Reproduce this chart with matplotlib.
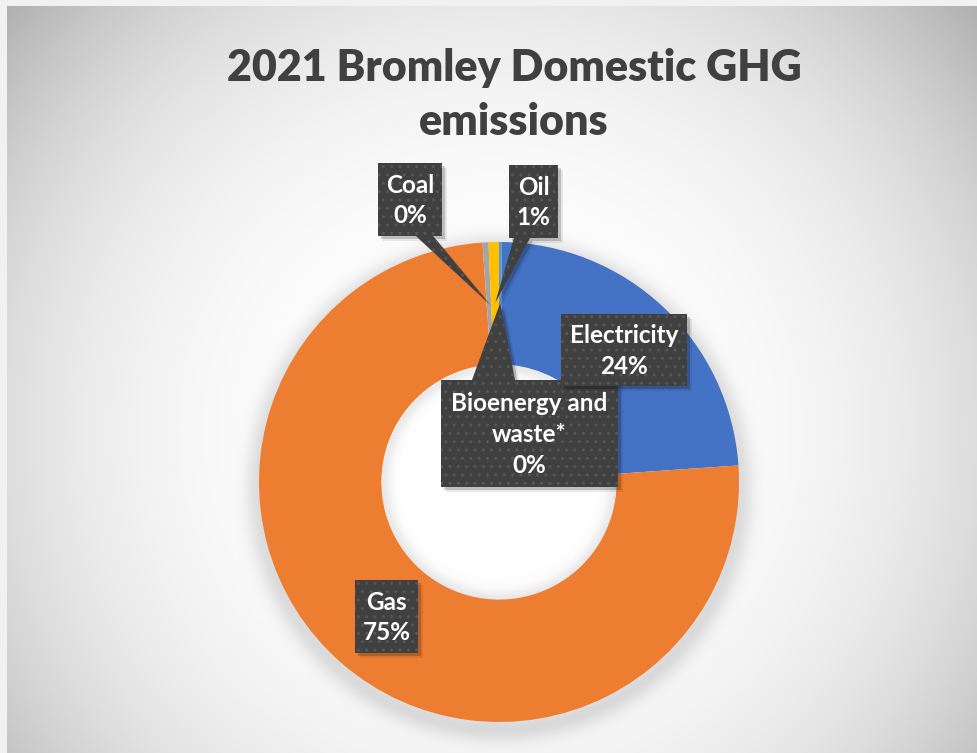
import numpy as np
import matplotlib.pyplot as plt
from matplotlib.patches import Polygon

# domestic GHG emissions by fuel, share in %
fuels = ['Bioenergy and\nwaste*', 'Electricity', 'Gas', 'Coal', 'Oil']
shares = [0.2, 23.7, 75.0, 0.4, 0.7]
colors = ['#5B9BD5', '#4472C4', '#ED7D31', '#A5A5A5', '#FFC000']
title = '2021 Bromley Domestic GHG\nemissions'

W, H, DPI = 978, 753, 100
CX, CY, R = 499, 482, 240        # donut centre / radius in pixels
HOLE = 0.49

# label boxes (x0, y0, x1, y1) in pixels from top-left, and callout base on the box edge
boxes = {
    'Coal': ((378, 163, 442, 236), ('bottom', 416, 433)),
    'Oil': ((509, 165, 558, 238), ('bottom', 514, 530)),
    'Electricity': ((561, 314, 687, 386), None),
    'Bioenergy and\nwaste*': ((441, 380, 618, 487), ('top', 472, 515)),
    'Gas': ((355, 580, 418, 653), None),
}

plt.rcParams['font.family'] = ['Lato', 'DejaVu Sans']
fig = plt.figure(figsize=(W / DPI, H / DPI), dpi=DPI)

# radial grey background with a soft shadow around the ring
yy, xx = np.mgrid[0:H, 0:W]
d = np.hypot(xx - 490, yy - 430)
val = 255 - 64 * np.clip(d / 600, 0, 1.4) ** 3
ds = np.hypot(xx - CX, yy - (CY + 6))
val -= 30 * np.exp(-((ds - R) / 14) ** 2) * (ds > R - 10)
dh = np.hypot(xx - CX, yy - CY)
rh = HOLE * R
val -= 22 * np.exp(-((rh - dh) / 9) ** 2) * (dh < rh)
val[:6, :] = 242
val[:, :7] = 242
rgb = np.dstack([np.clip(val, 0, 255)] * 3) / 255

bg = fig.add_axes([0, 0, 1, 1], zorder=0)
bg.imshow(rgb, extent=(0, W, H, 0), aspect='auto', interpolation='bilinear')
bg.axis('off')

ax = fig.add_axes([(CX - R) / W, (H - CY - R) / H, 2 * R / W, 2 * R / H], zorder=2)
wedges, _ = ax.pie(shares, colors=colors, startangle=90, counterclock=False,
                   radius=1, wedgeprops=dict(width=1 - HOLE, linewidth=0))
ax.set_xlim(-1, 1)
ax.set_ylim(-1, 1)

ov = fig.add_axes([0, 0, 1, 1], zorder=3)
ov.set_xlim(0, W)
ov.set_ylim(H, 0)
ov.axis('off')

fig.text(514 / W, 1 - 95 / H, title, ha='center', va='center', fontsize=31,
         fontweight='heavy', color='#404040', linespacing=1.45)

for w, name, share in zip(wedges, fuels, shares):
    (x0, y0, x1, y1), callout = boxes[name]
    verts = [(x0, y0), (x1, y0), (x1, y1), (x0, y1)]
    if callout:
        side, b1, b2 = callout
        th = np.deg2rad((w.theta1 + w.theta2) / 2)
        r_mid = 1 - (1 - HOLE) / 2
        px, py = ax.transData.transform((r_mid * np.cos(th), r_mid * np.sin(th)))
        tip = (px, H - py)
        if side == 'bottom':
            verts = [(x0, y0), (x1, y0), (x1, y1), (b2, y1), tip, (b1, y1), (x0, y1)]
        else:
            verts = [(x0, y0), (b1, y0), tip, (b2, y0), (x1, y0), (x1, y1), (x0, y1)]
    for off, a in [(5, 0.08), (3, 0.18)]:
        ov.add_patch(Polygon([(vx + off, vy + off) for vx, vy in verts],
                             closed=True, facecolor='black', alpha=a, lw=0))
    ov.add_patch(Polygon(verts, closed=True, facecolor='#404040', lw=0))
    ov.add_patch(Polygon(verts, closed=True, fill=False, hatch='..',
                         edgecolor='#565656', lw=0))
    ov.text((x0 + x1) / 2, (y0 + y1) / 2 + 1, f'{name}\n{share:.0f}%',
            ha='center', va='center', color='white', fontsize=17.5,
            fontweight='bold', linespacing=1.4)

fig.savefig('out.png', dpi=DPI)
